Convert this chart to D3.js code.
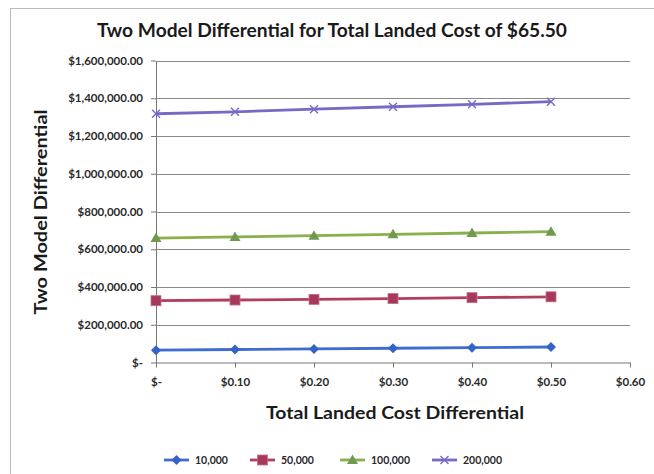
<!DOCTYPE html>
<html><head><meta charset="utf-8">
<script src="https://cdn.jsdelivr.net/npm/d3@7"></script>
<style>
html,body{margin:0;padding:0;background:#fff;}
svg{display:block;font-family:Lato,"Open Sans",sans-serif;}
</style></head><body>
<svg id="c" width="654" height="474"></svg>
<script>
const xValues = [0, 0.1, 0.2, 0.3, 0.4, 0.5];
const xTicks = [0, 0.1, 0.2, 0.3, 0.4, 0.5, 0.6];
const yTicks = [0, 200000, 400000, 600000, 800000, 1000000, 1200000, 1400000, 1600000];
const seriesNames = ["10,000", "50,000", "100,000", "200,000"];
const s10000 = [65500, 68800, 72000, 75400, 78700, 82000];
const s50000 = [327500, 331000, 334500, 338500, 343500, 348000];
const s100000 = [659000, 665500, 672000, 679000, 686000, 693000];
const s200000 = [1318000, 1328000, 1342000, 1355000, 1368000, 1382000];
const seriesValues = [s10000, s50000, s100000, s200000];
const colors = ["#3E6DCF", "#B23E5E", "#8AB04B", "#7A68C6"];
const markerColors = ["#3562C8", "#A8385A", "#6F9A50", "#7A68C6"];
const markerTypes = ["diamond", "square", "triangle", "x"];

const svg = d3.select("#c");
// chart border
svg.append("line").attr("x1",10).attr("x2",654).attr("y1",8.5).attr("y2",8.5).attr("stroke","#bbb").attr("stroke-width",1);
svg.append("line").attr("x1",10.5).attr("x2",10.5).attr("y1",8).attr("y2",474).attr("stroke","#bbb").attr("stroke-width",1);

const x = d3.scaleLinear().domain([0,0.6]).range([156,630]);
const y = d3.scaleLinear().domain([0,1600000]).range([362.5,60.5]);

// gridlines
svg.append("g").selectAll("line").data(yTicks.slice(1)).join("line")
  .attr("x1",156).attr("x2",630).attr("y1",d=>Math.round(y(d))+0.5).attr("y2",d=>Math.round(y(d))+0.5)
  .attr("stroke","#8a8a8a").attr("stroke-width",1);

const fmtY = d => d===0 ? "$-" : "$" + d3.format(",.2f")(d);
const fmtX = d => d===0 ? "$-" : "$" + d3.format(".2f")(d);

const yAxis = svg.append("g").attr("transform","translate(156,0)")
  .call(d3.axisLeft(y).tickValues(yTicks).tickFormat(fmtY).tickSize(5).tickSizeOuter(0));
yAxis.select(".domain").attr("stroke","#777");
yAxis.selectAll(".tick line").attr("stroke","#777");
yAxis.selectAll("text").attr("font-size",11.5).attr("font-weight","bold").attr("fill","#2a2a2a")
  .attr("font-family","Lato, sans-serif").attr("x",-13);

const xAxis = svg.append("g").attr("transform",`translate(0,${y(0)})`)
  .call(d3.axisBottom(x).tickValues(xTicks).tickFormat(fmtX).tickSize(5).tickSizeOuter(0));
xAxis.select(".domain").attr("stroke","#777");
xAxis.selectAll(".tick line").attr("stroke","#777");
xAxis.selectAll("text").attr("font-size",11.5).attr("font-weight","bold").attr("fill","#2a2a2a")
  .attr("font-family","Lato, sans-serif").attr("y",15);

// markers
function drawMarker(g, type, cx, cy, i){
  if(type==="diamond"){
    g.append("path").attr("d",`M${cx},${cy-5}L${cx+5},${cy}L${cx},${cy+5}L${cx-5},${cy}Z`).attr("fill",markerColors[i]);
  } else if(type==="square"){
    g.append("rect").attr("x",cx-5).attr("y",cy-5).attr("width",10).attr("height",10).attr("fill",markerColors[i]).attr("stroke","#c0708a").attr("stroke-width",0.8);
  } else if(type==="triangle"){
    g.append("path").attr("d",`M${cx},${cy-5.5}L${cx+5.5},${cy+4}L${cx-5.5},${cy+4}Z`).attr("fill",markerColors[i]);
  } else {
    g.append("path").attr("d",`M${cx-4},${cy-4}L${cx+4},${cy+4}M${cx-4},${cy+4}L${cx+4},${cy-4}`).attr("stroke",markerColors[i]).attr("stroke-width",1.4).attr("fill","none");
  }
}

const line = d3.line().x((d,j)=>x(xValues[j])).y(d=>y(d));
seriesValues.forEach((vals,i)=>{
  const g = svg.append("g");
  g.append("path").datum(vals).attr("d",line).attr("fill","none").attr("stroke",colors[i]).attr("stroke-width",2.8);
  vals.forEach((v,j)=>drawMarker(g, markerTypes[i], x(xValues[j]), y(v), i));
});

// titles
svg.append("text").attr("x",332).attr("y",37).attr("text-anchor","middle")
  .attr("font-size",18.5).attr("font-weight","bold").attr("fill","#1a1a1a")
  .attr("textLength",470).attr("lengthAdjust","spacingAndGlyphs")
  .text("Two Model Differential for Total Landed Cost of $65.50");
svg.append("text").attr("transform","translate(47,212) rotate(-90)").attr("text-anchor","middle")
  .attr("font-size",16.5).attr("font-weight","bold").attr("fill","#1a1a1a")
  .attr("textLength",205).attr("lengthAdjust","spacingAndGlyphs")
  .text("Two Model Differential");
svg.append("text").attr("x",395).attr("y",419).attr("text-anchor","middle")
  .attr("font-size",16.5).attr("font-weight","bold").attr("fill","#1a1a1a")
  .attr("textLength",258).attr("lengthAdjust","spacingAndGlyphs")
  .text("Total Landed Cost Differential");

// legend
const legX = [164, 250, 340, 432];
seriesNames.forEach((name,i)=>{
  const g = svg.append("g");
  const lx = legX[i], ly = 460;
  g.append("line").attr("x1",lx).attr("x2",lx+25).attr("y1",ly).attr("y2",ly).attr("stroke",colors[i]).attr("stroke-width",2.8);
  drawMarker(g, markerTypes[i], lx+12.5, ly, i);
  g.append("text").attr("x",lx+31).attr("y",ly+4).attr("font-size",10.5).attr("font-weight","bold").attr("fill","#2a2a2a").text(name);
});
</script>
</body></html>
